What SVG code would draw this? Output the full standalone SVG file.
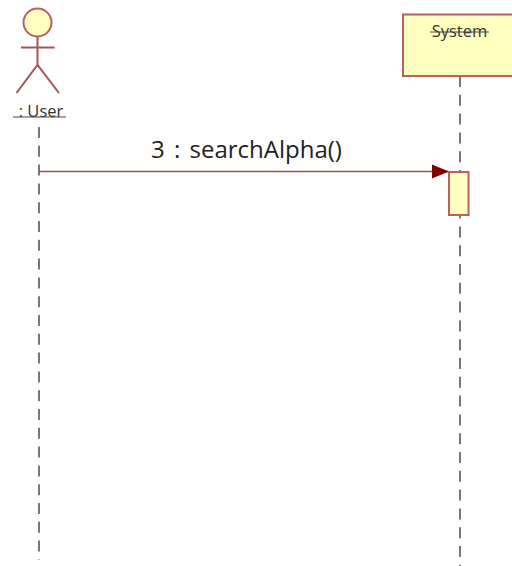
<svg xmlns="http://www.w3.org/2000/svg" width="512" height="566" viewBox="0 0 512 566">
<defs>
<marker id="arrow" markerUnits="userSpaceOnUse" markerWidth="18" markerHeight="16" refX="17" refY="8" orient="auto"><path d="M0 1 L17 8 L0 15 Z" fill="#820000"/></marker>
</defs>
<style>
.fill{fill:#ffffc0;stroke:#b86060;stroke-width:2}
.stick{fill:none;stroke:#a45555;stroke-width:2}
.life{fill:none;stroke:#777;stroke-width:2;stroke-dasharray:11 7.8}
.name{font-family:"Open Sans","Noto Sans",sans-serif;font-size:16.5px;fill:#333;text-anchor:middle}
.strike{stroke:#444;stroke-width:1.2}
.msg{font-family:"Open Sans","Noto Sans",sans-serif;font-size:24px;fill:#222;word-spacing:3px}
</style>
<rect width="512" height="566" fill="#fff"/>
<g id="connectors">
<path class="life" d="M39 127V560"/>
<path class="life" d="M460 76V566"/>
<path d="M39 171.500H449" fill="none" stroke="#a84d4d" stroke-width="1.600" marker-end="url(#arrow)"/>
</g>
<g id="user">
<circle class="fill" cx="37.500" cy="22.500" r="14"/>
<path class="stick" d="M37.500 36.500V65M21 47.500H54.500M16.500 93L37.500 65L59 93"/>
<text class="name" x="41" y="117">: User</text>
<path class="strike" d="M13 117H66"/>
</g>
<g id="system">
<rect class="fill" x="403" y="14.500" width="110" height="61.500"/>
<text class="name" x="459.500" y="37">System</text>
<path class="strike" d="M430 32H489"/>
</g>
<g id="activation">
<rect class="fill" x="449" y="172" width="19.500" height="43"/>
</g>
<g id="message">
<text class="msg" x="151" y="158">3 : searchAlpha()</text>
</g>
</svg>
